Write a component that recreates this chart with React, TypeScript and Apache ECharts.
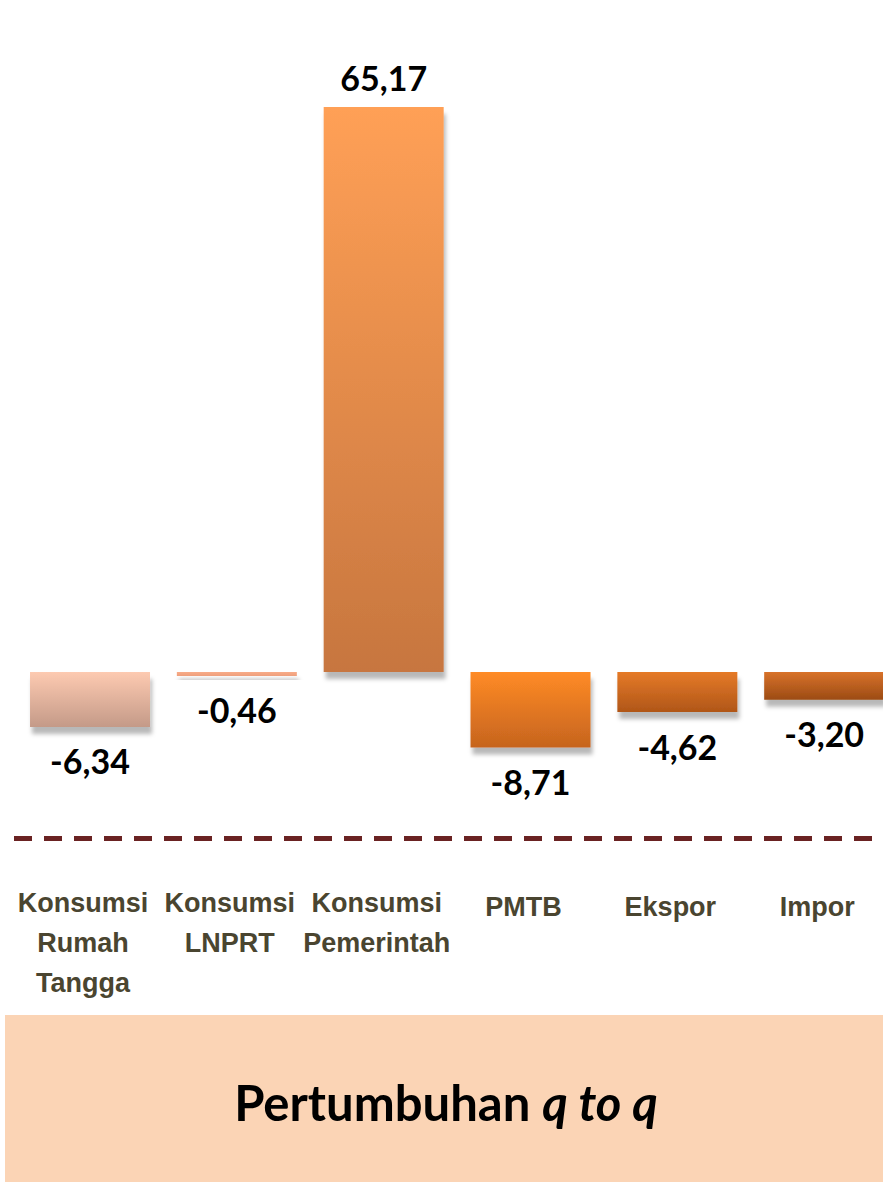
import React, { useEffect, useRef } from "react";
import * as echarts from "echarts";

const categories = [
  "Konsumsi\nRumah\nTangga",
  "Konsumsi\nLNPRT",
  "Konsumsi\nPemerintah",
  "PMTB",
  "Ekspor",
  "Impor",
];
const values = [-6.34, -0.46, 65.17, -8.71, -4.62, -3.2];
const titleMain = "Pertumbuhan ";
const titleItalic = "q to q";

const topColors = ["#FDCAB1", "#F8AC88", "#FFA056", "#FF8B26", "#E57A28", "#D8722A"];
const bottomColors = ["#C49A88", "#EE9F7C", "#C7763F", "#C6641E", "#B05618", "#9C4B14"];

const catFont = "'Liberation Sans', Arial, sans-serif";
const valFont = "Lato, 'Open Sans', sans-serif";

export default function App() {
  const ref = useRef<HTMLDivElement>(null);
  useEffect(() => {
    if (!ref.current) return;
    const chart = echarts.init(ref.current, undefined, { renderer: "svg" });
    const data = values.map((v, i) => ({
      value: v,
      itemStyle: {
        color: new echarts.graphic.LinearGradient(0, 0, 0, 1, [
          { offset: 0, color: topColors[i] },
          { offset: 1, color: bottomColors[i] },
        ]),
      },
      label: {
        position: v >= 0 ? "top" : "bottom",
        distance: v >= 0 ? 12 : 17,
      },
    }));
    chart.setOption({
      animation: false,
      backgroundColor: "#ffffff",
      grid: { left: 16.6, right: 2.4, top: 65.1, bottom: 423.3, containLabel: false },
      xAxis: {
        type: "category",
        data: categories,
        axisLine: { show: false, onZero: false },
        axisTick: { show: false },
        axisLabel: {
          margin: 124,
          interval: 0,
          overflow: "none",
          verticalAlign: "top",
          padding: [0, 14, 0, 0],
          fontFamily: catFont,
          fontWeight: "bold",
          fontSize: 27,
          lineHeight: 40,
          color: "#4A4530",
          formatter: (v: string) =>
            v.indexOf("\n") >= 0 ? v : "{s|" + v + "}",
          rich: {
            s: {
              padding: [8, 0, 0, 0],
              fontFamily: catFont,
              fontWeight: "bold",
              fontSize: 27,
              lineHeight: 40,
              color: "#4A4530",
            },
          },
        },
      },
      yAxis: {
        type: "value",
        min: -10,
        max: 70,
        show: false,
        splitLine: { show: false },
      },
      series: [
        {
          type: "bar",
          data,
          barWidth: 120,
          itemStyle: {
            shadowColor: "rgba(0,0,0,0.28)",
            shadowBlur: 4,
            shadowOffsetX: 2,
            shadowOffsetY: 7,
          },
          label: {
            show: true,
            fontFamily: valFont,
            fontWeight: "bold",
            fontSize: 34,
            color: "#000000",
            formatter: (p: any) => p.value.toFixed(2).replace(".", ","),
          },
        },
      ],
      graphic: [
        {
          type: "line",
          shape: { x1: 14, y1: 838.5, x2: 876, y2: 838.5 },
          style: { stroke: "#6A2222", lineWidth: 5, lineDash: [18, 12] },
        },
        {
          type: "rect",
          shape: { x: 5, y: 1015, width: 900, height: 167 },
          style: { fill: "#FBD4B5" },
        },
        {
          type: "text",
          x: 446,
          y: 1102,
          style: {
            text: "{a|" + titleMain + "}{b|" + titleItalic + "}",
            align: "center",
            verticalAlign: "middle",
            rich: {
              a: { fontFamily: valFont, fontWeight: "bold", fontSize: 49, fill: "#000" },
              b: {
                fontFamily: valFont,
                fontWeight: "bold",
                fontStyle: "italic",
                fontSize: 49,
                fill: "#000",
              },
            },
          },
        },
      ],
    });
    return () => chart.dispose();
  }, []);
  return (
    <div
      style={{
        position: "absolute",
        left: 0,
        top: 0,
        width: 883,
        height: 1182,
        overflow: "hidden",
        background: "#fff",
      }}
    >
      <div ref={ref} style={{ width: 900, height: 1182 }} />
    </div>
  );
}
